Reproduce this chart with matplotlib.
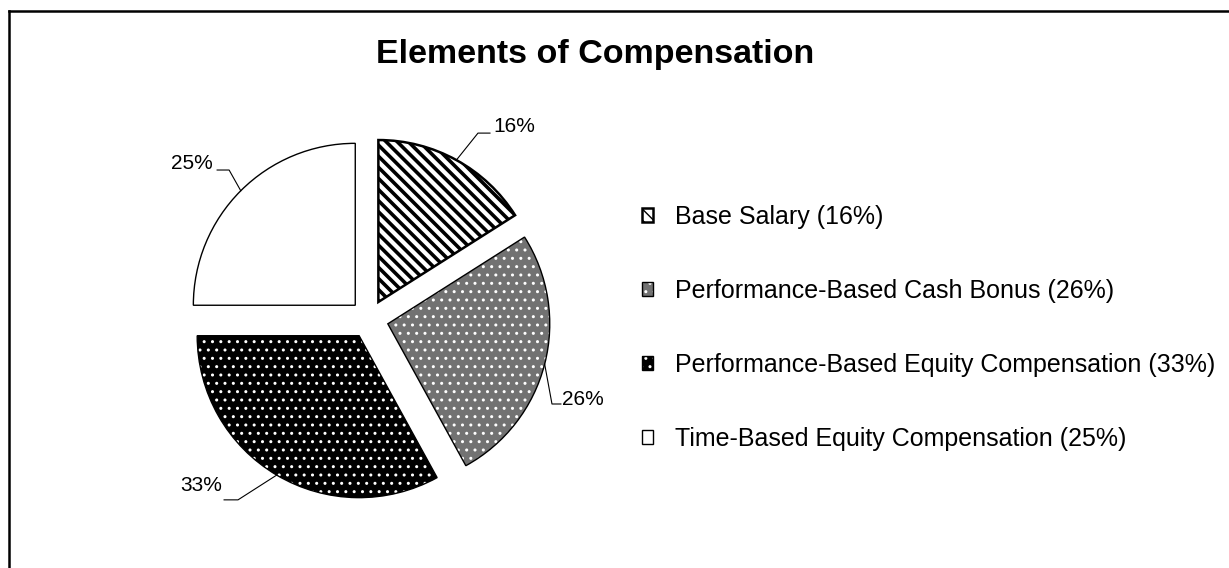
import numpy as np
import matplotlib.pyplot as plt
from matplotlib.legend_handler import HandlerTuple

plt.rcParams['font.family'] = ['Liberation Sans', 'DejaVu Sans']

# data
labels = ['Base Salary', 'Performance-Based Cash Bonus',
          'Performance-Based Equity Compensation', 'Time-Based Equity Compensation']
shares = [16, 26, 33, 25]

# styles
face_colors = ['white', '#727272', 'black', 'white']
hatch_colors = ['black', 'white', 'white', 'black']
hatches = ['\\\\\\', '..', '..', None]

# leader layout (data units): elbow, end of line, text position, alignment
leader_elbow = [(0.673, 1.148), (1.130, -0.525), (-0.809, -1.117), (-0.864, 0.920)]
leader_end = [(0.747, 1.148), (1.185, -0.525), (-0.895, -1.117), (-0.938, 0.920)]
label_pos = [(0.765, 1.190), (1.191, -0.500), (-0.907, -1.030), (-0.963, 0.960)]
label_ha = ['left', 'left', 'right', 'right']

fig = plt.figure(figsize=(12.29, 5.68), dpi=100)
ax = fig.add_axes([0.1289, 0.0678, 0.3427, 0.7412])

explode = [0.12] * len(shares)
fill, _ = ax.pie(shares, explode=explode, startangle=90, counterclock=False,
                 colors=face_colors, wedgeprops=dict(linewidth=0))
for w, h, hc in zip(fill, hatches, hatch_colors):
    w.set_edgecolor(hc)
    if h:
        w.set_hatch(h)
        if hasattr(w, 'set_hatch_linewidth'):
            w.set_hatch_linewidth(2.6 if '\\' in h else 1.0)

outline, _ = ax.pie(shares, explode=explode, startangle=90, counterclock=False,
                    colors=['none'] * len(shares),
                    wedgeprops=dict(linewidth=1.0, edgecolor='black'))
outline[0].set_linewidth(1.8)

ax.set_xlim(-1.3, 1.3)
ax.set_ylim(-1.3, 1.3)
ax.set_aspect('equal')

# percentage labels with leader lines
for w, v, el, en, tp, ha in zip(fill, shares, leader_elbow, leader_end, label_pos, label_ha):
    t = np.deg2rad((w.theta1 + w.theta2) / 2)
    px = w.center[0] + w.r * np.cos(t)
    py = w.center[1] + w.r * np.sin(t)
    ax.plot([px, el[0], en[0]], [py, el[1], en[1]], color='black', lw=0.8,
            clip_on=False)
    ax.text(tp[0], tp[1], f'{v}%', ha=ha, va='center', fontsize=15)

fig.text(595 / 1229, 1 - 55 / 568, 'Elements of Compensation',
         ha='center', va='center', fontsize=24.5, fontweight='bold')

legend_labels = [f'{l} ({v}%)' for l, v in zip(labels, shares)]
fig.legend(list(zip(fill, outline)), legend_labels,
           handler_map={tuple: HandlerTuple(ndivide=1, pad=0)},
           loc='upper left', bbox_to_anchor=(0.5224, 0.639), frameon=False,
           fontsize=18, handlelength=0.45, handleheight=0.45,
           handletextpad=0.85, labelspacing=2.0, borderpad=0, borderaxespad=0)

# chart border (left and top only visible)
fig.add_artist(plt.Line2D([9 / 1229, 9 / 1229], [0, 1 - 11 / 568], color='black', lw=1.8))
fig.add_artist(plt.Line2D([9 / 1229, 1], [1 - 11 / 568, 1 - 11 / 568], color='black', lw=1.8))

fig.savefig('out.png', dpi=100)
